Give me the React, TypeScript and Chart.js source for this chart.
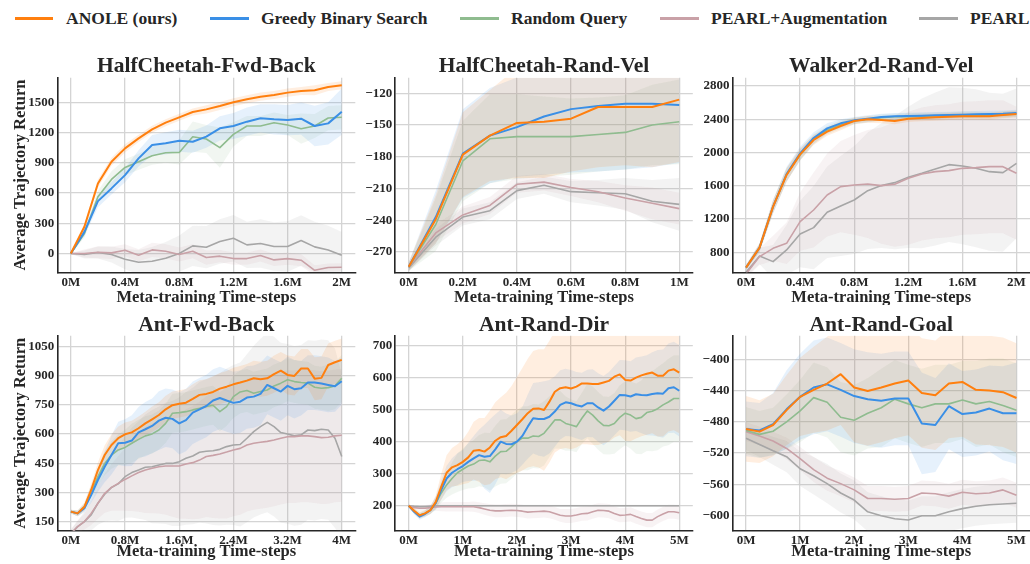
import React, { useEffect, useRef } from "react";
import { Chart, registerables } from "chart.js";

Chart.register(...registerables);

const FONT = '"Liberation Serif", "Times New Roman", serif';
const TEXT = "#262626";
const GRID = "#d4d4d4";
const SPINE = "#262626";

const SERIES = ["ANOLE (ours)", "Greedy Binary Search", "Random Query", "PEARL+Augmentation", "PEARL"];
const COLORS = ["#ff7f0e", "#3a8fe6", "#8fbc8f", "#c9a1a7", "#a6a6a6"];
const BAND_RGB = ["255,127,14", "58,143,230", "143,188,143", "201,161,167", "166,166,166"];

// ---------- x values (millions of steps) ----------
const X_2M = [0, 0.1, 0.2, 0.3, 0.4, 0.5, 0.6, 0.7, 0.8, 0.9, 1, 1.1, 1.2, 1.3, 1.4, 1.5, 1.6, 1.7, 1.8, 1.9, 2];
const X_1M = [0, 0.1, 0.2, 0.3, 0.4, 0.5, 0.6, 0.7, 0.8, 0.9, 1];
const X_4M = [0, 0.1, 0.2, 0.3, 0.4, 0.5, 0.6, 0.7, 0.8, 0.9, 1, 1.1, 1.2, 1.3, 1.4, 1.5, 1.6, 1.7, 1.8, 1.9, 2, 2.1, 2.2, 2.3, 2.4, 2.5, 2.6, 2.7, 2.8, 2.9, 3, 3.1, 3.2, 3.3, 3.4, 3.5, 3.6, 3.7, 3.8, 3.9, 4];
const X_5M = [0, 0.1, 0.2, 0.3, 0.4, 0.5, 0.6, 0.7, 0.8, 0.9, 1, 1.1, 1.2, 1.3, 1.4, 1.5, 1.6, 1.7, 1.8, 1.9, 2, 2.1, 2.2, 2.3, 2.4, 2.5, 2.6, 2.7, 2.8, 2.9, 3, 3.1, 3.2, 3.3, 3.4, 3.5, 3.6, 3.7, 3.8, 3.9, 4, 4.1, 4.2, 4.3, 4.4, 4.5, 4.6, 4.7, 4.8, 4.9, 5];
const X_5M_Q = [0, 0.25, 0.5, 0.75, 1, 1.25, 1.5, 1.75, 2, 2.25, 2.5, 2.75, 3, 3.25, 3.5, 3.75, 4, 4.25, 4.5, 4.75, 5];

// ---------- HalfCheetah-Fwd-Back ----------
const HCFB_ANOLE = [0, 265, 695, 910, 1043, 1142, 1232, 1298, 1351, 1404, 1430, 1463, 1500, 1530, 1556, 1573, 1596, 1612, 1619, 1652, 1669];
const HCFB_GREEDY = [0, 215, 520, 646, 778, 944, 1076, 1093, 1119, 1109, 1159, 1242, 1265, 1308, 1341, 1331, 1324, 1338, 1265, 1291, 1407];
const HCFB_RANDOM = [0, 199, 563, 735, 854, 910, 970, 1000, 1003, 1159, 1136, 1050, 1182, 1265, 1265, 1298, 1275, 1238, 1265, 1344, 1351];
const HCFB_PEARLAUG = [0, 0, 13, 7, 33, -17, 36, 23, -10, 23, -40, -26, -50, -50, -20, -63, -50, -66, -166, -139, -136];
const HCFB_PEARL = [0, -10, 10, -10, -56, -86, -76, -46, 0, 76, 63, 119, 152, 86, 99, 70, 70, 129, 66, 36, -17];
const HCFB_ANOLE_SD = [5, 30, 40, 40, 40, 35, 35, 35, 35, 35, 40, 40, 40, 40, 40, 40, 40, 40, 50, 40, 40];
const HCFB_GREEDY_SD = [5, 40, 60, 60, 70, 80, 100, 110, 110, 110, 110, 120, 130, 140, 140, 150, 150, 160, 200, 210, 230];
const HCFB_RANDOM_SD = [5, 40, 60, 80, 80, 80, 90, 100, 120, 150, 140, 200, 120, 100, 100, 100, 100, 150, 120, 120, 120];
const HCFB_PEARLAUG_SD = [5, 40, 60, 60, 60, 60, 70, 70, 70, 70, 70, 60, 60, 60, 60, 60, 60, 60, 50, 40, 40];
const HCFB_PEARL_SD = [5, 40, 60, 80, 100, 120, 140, 160, 180, 200, 210, 220, 230, 230, 240, 240, 250, 250, 250, 240, 230];

// ---------- HalfCheetah-Rand-Vel ----------
const HCRV_ANOLE = [-284, -239, -178, -160, -148, -147, -144, -133, -133, -133, -126];
const HCRV_GREEDY = [-284, -237, -177, -160, -152, -142, -135, -132, -130, -130, -131];
const HCRV_RANDOM = [-284, -244, -184, -163, -161, -161, -161, -159, -157, -150, -147];
const HCRV_PEARLAUG = [-284, -252, -235, -226, -206, -204, -209, -213, -219, -224, -229];
const HCRV_PEARL = [-285, -256, -237, -231, -212, -207, -213, -214, -215, -222, -225];
const HCRV_ANOLE_SD = [4, 23, 40, 43, 52, 53, 50, 57, 55, 57, 59];
const HCRV_GREEDY_SD = [4, 25, 42, 45, 47, 55, 60, 62, 62, 60, 55];
const HCRV_RANDOM_SD = [4, 25, 38, 42, 40, 38, 36, 35, 35, 38, 40];
const HCRV_PEARLAUG_SD = [3, 8, 8, 8, 8, 8, 8, 10, 12, 15, 15];
const HCRV_PEARL_SD = [3, 8, 8, 8, 8, 8, 10, 12, 15, 20, 25];

// ---------- Walker2d-Rand-Vel ----------
const W2D_ANOLE = [616, 856, 1349, 1730, 1978, 2151, 2251, 2319, 2379, 2399, 2391, 2379, 2407, 2415, 2423, 2431, 2435, 2435, 2435, 2451, 2463];
const W2D_GREEDY = [616, 856, 1349, 1740, 1990, 2175, 2291, 2351, 2387, 2407, 2427, 2435, 2439, 2443, 2447, 2451, 2455, 2459, 2463, 2467, 2475];
const W2D_RANDOM = [616, 856, 1350, 1735, 1970, 2160, 2270, 2335, 2380, 2400, 2420, 2430, 2432, 2435, 2440, 2445, 2450, 2450, 2445, 2455, 2465];
const W2D_PEARLAUG = [540, 748, 848, 908, 1169, 1309, 1489, 1590, 1610, 1622, 1602, 1618, 1690, 1742, 1770, 1782, 1810, 1818, 1830, 1830, 1750];
const W2D_PEARL = [560, 756, 688, 828, 1020, 1097, 1281, 1357, 1429, 1541, 1602, 1638, 1702, 1750, 1802, 1854, 1838, 1810, 1770, 1758, 1870];
const W2D_ANOLE_SD = [30, 50, 80, 80, 70, 60, 50, 50, 40, 40, 40, 40, 40, 40, 40, 40, 40, 40, 40, 40, 40];
const W2D_GREEDY_SD = [30, 50, 80, 90, 80, 70, 60, 50, 40, 40, 40, 40, 40, 40, 40, 40, 40, 40, 40, 40, 40];
const W2D_RANDOM_SD = [30, 50, 80, 80, 70, 60, 50, 50, 40, 40, 40, 40, 40, 40, 40, 40, 40, 40, 40, 40, 40];
const W2D_PEARLAUG_SD = [50, 100, 150, 250, 350, 450, 500, 550, 600, 650, 700, 750, 800, 800, 800, 800, 800, 800, 800, 800, 800];
const W2D_PEARL_SD = [50, 100, 200, 300, 400, 500, 550, 600, 650, 700, 750, 800, 850, 900, 920, 930, 940, 950, 950, 950, 900];

// ---------- Ant-Fwd-Back ----------
const AFB_ANOLE = [203, 194, 228, 314, 416, 493, 544, 579, 599, 609, 630, 655, 676, 698, 727, 748, 755, 761, 780, 801, 806, 816, 833, 843, 855, 864, 874, 886, 881, 886, 907, 925, 903, 898, 936, 936, 884, 888, 954, 968, 980];
const AFB_GREEDY = [203, 194, 220, 288, 365, 433, 493, 553, 556, 567, 609, 625, 642, 669, 684, 678, 655, 672, 710, 727, 744, 772, 785, 772, 760, 766, 787, 792, 806, 852, 835, 818, 847, 830, 835, 864, 864, 859, 852, 845, 871];
const AFB_RANDOM = [203, 194, 228, 305, 382, 450, 493, 519, 532, 553, 573, 591, 601, 621, 655, 707, 710, 715, 724, 732, 741, 748, 715, 741, 792, 816, 823, 809, 818, 826, 847, 861, 878, 869, 864, 861, 840, 835, 838, 847, 886];
const AFB_PEARLAUG = [90, 126, 152, 194, 246, 297, 327, 348, 368, 386, 403, 416, 425, 433, 437, 437, 437, 447, 454, 467, 485, 491, 498, 508, 519, 527, 544, 553, 558, 563, 570, 579, 587, 587, 591, 591, 587, 582, 584, 591, 594];
const AFB_PEARL = [90, 126, 152, 186, 246, 292, 327, 345, 382, 403, 416, 430, 433, 442, 450, 450, 459, 476, 488, 507, 512, 515, 522, 536, 544, 547, 579, 613, 638, 660, 638, 608, 601, 591, 596, 621, 618, 625, 621, 579, 485];
const AFB_ANOLE_SD = [10, 15, 20, 30, 40, 50, 55, 60, 60, 60, 60, 60, 65, 65, 70, 70, 70, 70, 75, 75, 75, 80, 80, 80, 85, 85, 85, 90, 90, 90, 95, 95, 100, 100, 100, 100, 110, 110, 110, 110, 110];
const AFB_GREEDY_SD = [10, 15, 20, 40, 60, 80, 100, 110, 120, 130, 130, 140, 140, 150, 150, 150, 160, 160, 160, 160, 160, 160, 160, 160, 160, 160, 160, 160, 160, 150, 150, 150, 150, 150, 140, 140, 140, 140, 140, 130, 120];
const AFB_RANDOM_SD = [10, 15, 20, 35, 50, 60, 70, 80, 90, 100, 100, 100, 100, 100, 100, 100, 100, 100, 100, 100, 100, 100, 100, 100, 110, 110, 110, 110, 110, 110, 110, 110, 110, 110, 110, 110, 110, 110, 120, 120, 120];
const AFB_PEARLAUG_SD = [20, 30, 40, 60, 80, 100, 120, 140, 160, 180, 200, 220, 230, 240, 250, 260, 270, 280, 290, 300, 310, 320, 330, 340, 340, 340, 340, 340, 340, 340, 340, 340, 340, 340, 340, 340, 340, 340, 340, 340, 340];
const AFB_PEARL_SD = [20, 30, 50, 80, 110, 140, 170, 190, 210, 230, 250, 270, 290, 300, 310, 320, 330, 340, 350, 360, 370, 380, 390, 400, 410, 420, 430, 440, 450, 460, 460, 460, 460, 460, 460, 460, 460, 460, 460, 460, 420];

// ---------- Ant-Rand-Dir ----------
const ARD_ANOLE = [200, 184, 170, 176, 186, 212, 259, 303, 320, 327, 337, 351, 372, 374, 369, 382, 403, 414, 418, 434, 452, 470, 489, 503, 504, 499, 525, 556, 567, 570, 566, 572, 582, 582, 580, 580, 585, 590, 603, 610, 593, 591, 600, 607, 612, 616, 606, 606, 622, 626, 616];
const ARD_GREEDY = [200, 181, 166, 174, 186, 209, 249, 285, 303, 314, 324, 337, 348, 358, 353, 355, 376, 400, 393, 392, 400, 418, 447, 473, 471, 471, 478, 494, 515, 523, 520, 514, 510, 520, 520, 507, 497, 510, 528, 546, 545, 541, 548, 546, 545, 549, 551, 550, 567, 570, 559];
const ARD_RANDOM = [200, 183, 171, 176, 186, 207, 239, 265, 285, 303, 314, 324, 330, 341, 343, 337, 355, 369, 370, 384, 400, 411, 411, 418, 416, 426, 447, 468, 468, 457, 452, 447, 473, 496, 483, 465, 451, 450, 457, 476, 489, 483, 472, 476, 491, 495, 503, 515, 524, 535, 535];
const ARD_PEARLAUG = [200, 194, 192, 192, 194, 196, 197, 197, 197, 197, 197, 197, 197, 194, 190, 186, 184, 184, 185, 186, 185, 183, 180, 181, 182, 183, 181, 176, 170, 168, 168, 171, 175, 176, 181, 186, 185, 183, 176, 170, 171, 173, 166, 160, 155, 155, 166, 174, 181, 181, 178];
const ARD_PEARL = [200, 198, 197, 197, 198, 199, 200, 200, 200, 200, 200, 200, 200, 200, 200, 200, 200, 200, 200, 200, 200, 200, 200, 200, 200, 200, 200, 200, 200, 200, 200, 200, 200, 200, 200, 200, 200, 200, 200, 200, 200, 200, 200, 200, 200, 200, 200, 200, 200, 200, 200];
const ARD_ANOLE_SD = [5, 8, 10, 10, 12, 20, 40, 55, 60, 65, 70, 80, 90, 100, 105, 115, 120, 125, 135, 140, 150, 160, 170, 180, 185, 190, 190, 190, 190, 190, 190, 190, 190, 190, 190, 190, 190, 190, 190, 190, 190, 190, 190, 190, 190, 190, 190, 190, 190, 190, 190];
const ARD_GREEDY_SD = [5, 8, 10, 10, 12, 20, 30, 40, 45, 50, 50, 60, 70, 80, 100, 115, 110, 100, 95, 90, 89, 90, 100, 110, 115, 118, 115, 110, 108, 105, 104, 104, 105, 105, 106, 107, 108, 108, 108, 109, 109, 110, 115, 120, 125, 130, 135, 138, 140, 142, 143];
const ARD_RANDOM_SD = [5, 8, 10, 10, 12, 20, 30, 40, 50, 60, 65, 70, 75, 80, 85, 90, 95, 100, 100, 100, 100, 100, 100, 100, 100, 100, 95, 90, 90, 85, 80, 80, 80, 85, 90, 90, 90, 90, 95, 100, 100, 105, 110, 115, 120, 125, 130, 130, 135, 135, 135];
const ARD_PEARLAUG_SD = [3, 5, 8, 10, 10, 12, 14, 15, 15, 15, 15, 15, 16, 17, 18, 19, 20, 20, 20, 20, 20, 20, 20, 20, 20, 20, 20, 20, 20, 22, 22, 22, 22, 22, 22, 22, 22, 22, 22, 22, 22, 22, 22, 22, 22, 22, 22, 22, 22, 22, 22];
const ARD_PEARL_SD = [3, 3, 3, 3, 3, 3, 3, 3, 3, 3, 3, 3, 3, 3, 3, 3, 3, 3, 3, 3, 3, 3, 3, 3, 3, 3, 3, 3, 3, 3, 3, 3, 3, 3, 3, 3, 3, 3, 3, 3, 3, 3, 3, 3, 3, 3, 3, 3, 3, 3, 3];

// ---------- Ant-Rand-Goal ----------
const ARG_ANOLE = [-489, -492.5, -484, -465, -448, -439, -431, -419, -436, -440.5, -436, -431, -427, -443, -446, -431, -429, -439, -440, -442, -449.5];
const ARG_GREEDY = [-489, -491, -483, -464, -448, -436, -432, -439, -447, -451, -453, -450, -450, -482, -484, -460, -470, -468, -463, -469, -469];
const ARG_RANDOM = [-491, -496, -492, -480, -466, -449, -455, -474, -478, -469, -462, -451, -457, -462, -457, -457, -452, -457, -454, -459, -465];
const ARG_PEARLAUG = [-492.5, -498, -504.5, -514, -527, -541, -552, -559, -567, -578, -578, -579, -578, -571, -572, -575, -570, -572, -571, -567, -574];
const ARG_PEARL = [-501, -509, -517, -524.5, -540, -549, -559, -571, -580, -595, -600, -604, -605.5, -600, -600, -595, -591, -588, -586, -585, -584];
const ARG_ANOLE_SD = [42, 40, 40, 45, 50, 55, 60, 65, 70, 70, 70, 70, 70, 70, 70, 70, 70, 70, 70, 70, 70];
const ARG_GREEDY_SD = [35, 35, 40, 50, 55, 60, 60, 60, 60, 60, 60, 60, 60, 65, 60, 55, 55, 55, 55, 60, 65];
const ARG_RANDOM_SD = [30, 30, 30, 35, 40, 45, 45, 45, 45, 45, 50, 50, 50, 50, 50, 50, 50, 55, 55, 60, 60];
const ARG_PEARLAUG_SD = [12, 12, 12, 14, 15, 16, 16, 16, 16, 16, 16, 16, 16, 16, 16, 16, 16, 16, 16, 16, 16];
const ARG_PEARL_SD = [15, 16, 18, 20, 22, 24, 25, 25, 25, 25, 25, 25, 25, 25, 25, 25, 25, 25, 25, 25, 25];

// ---------- tick labels ----------
const XT_2M = [0, 0.4, 0.8, 1.2, 1.6, 2];
const XT_1M = [0, 0.2, 0.4, 0.6, 0.8, 1];
const XT_4M = [0, 0.8, 1.6, 2.4, 3.2, 4];
const XT_5M = [0, 1, 2, 3, 4, 5];
const YT_HCFB = [0, 300, 600, 900, 1200, 1500];
const YT_HCRV = [-270, -240, -210, -180, -150, -120];
const YT_W2D = [800, 1200, 1600, 2000, 2400, 2800];
const YT_AFB = [150, 300, 450, 600, 750, 900, 1050];
const YT_ARD = [200, 300, 400, 500, 600, 700];
const YT_ARG = [-600, -560, -520, -480, -440, -400];

const XLABEL = "Meta-training Time-steps";
const YLABEL = "Average Trajectory Return";

// ---------- layout ----------
const COLS = [
  { left: 0, width: 360, areaL: 57.3, areaR: 355.3 },
  { left: 360, width: 340, areaL: 395.2, areaR: 692.8 },
  { left: 700, width: 330, areaL: 732.5, areaR: 1030 },
];
const ROWS = [
  { top: 40, height: 265, areaT: 77.7, areaB: 272.3, titleY: 71.7, xlabelY: 302 },
  { top: 305, height: 259, areaT: 335.7, areaB: 530.7, titleY: 331, xlabelY: 556 },
];

type Panel = {
  title: string;
  xs: number[];
  means: number[][];
  sds: number[][];
  xMin: number;
  xMax: number;
  yMin: number;
  yMax: number;
  xTicks: number[];
  yTicks: number[];
  col: number;
  row: number;
};

const PANELS: Panel[] = [
  {
    title: "HalfCheetah-Fwd-Back", xs: X_2M,
    means: [HCFB_ANOLE, HCFB_GREEDY, HCFB_RANDOM, HCFB_PEARLAUG, HCFB_PEARL],
    sds: [HCFB_ANOLE_SD, HCFB_GREEDY_SD, HCFB_RANDOM_SD, HCFB_PEARLAUG_SD, HCFB_PEARL_SD],
    xMin: -0.1, xMax: 2.1, yMin: -186, yMax: 1744, xTicks: XT_2M, yTicks: YT_HCFB, col: 0, row: 0,
  },
  {
    title: "HalfCheetah-Rand-Vel", xs: X_1M,
    means: [HCRV_ANOLE, HCRV_GREEDY, HCRV_RANDOM, HCRV_PEARLAUG, HCRV_PEARL],
    sds: [HCRV_ANOLE_SD, HCRV_GREEDY_SD, HCRV_RANDOM_SD, HCRV_PEARLAUG_SD, HCRV_PEARL_SD],
    xMin: -0.05, xMax: 1.05, yMin: -289.2, yMax: -105.3, xTicks: XT_1M, yTicks: YT_HCRV, col: 1, row: 0,
  },
  {
    title: "Walker2d-Rand-Vel", xs: X_2M,
    means: [W2D_ANOLE, W2D_GREEDY, W2D_RANDOM, W2D_PEARLAUG, W2D_PEARL],
    sds: [W2D_ANOLE_SD, W2D_GREEDY_SD, W2D_RANDOM_SD, W2D_PEARLAUG_SD, W2D_PEARL_SD],
    xMin: -0.1, xMax: 2.1, yMin: 559.5, yMax: 2900, xTicks: XT_2M, yTicks: YT_W2D, col: 2, row: 0,
  },
  {
    title: "Ant-Fwd-Back", xs: X_4M,
    means: [AFB_ANOLE, AFB_GREEDY, AFB_RANDOM, AFB_PEARLAUG, AFB_PEARL],
    sds: [AFB_ANOLE_SD, AFB_GREEDY_SD, AFB_RANDOM_SD, AFB_PEARLAUG_SD, AFB_PEARL_SD],
    xMin: -0.2, xMax: 4.2, yMin: 105.4, yMax: 1104, xTicks: XT_4M, yTicks: YT_AFB, col: 0, row: 1,
  },
  {
    title: "Ant-Rand-Dir", xs: X_5M,
    means: [ARD_ANOLE, ARD_GREEDY, ARD_RANDOM, ARD_PEARLAUG, ARD_PEARL],
    sds: [ARD_ANOLE_SD, ARD_GREEDY_SD, ARD_RANDOM_SD, ARD_PEARLAUG_SD, ARD_PEARL_SD],
    xMin: -0.25, xMax: 5.25, yMin: 122, yMax: 731, xTicks: XT_5M, yTicks: YT_ARD, col: 1, row: 1,
  },
  {
    title: "Ant-Rand-Goal", xs: X_5M_Q,
    means: [ARG_ANOLE, ARG_GREEDY, ARG_RANDOM, ARG_PEARLAUG, ARG_PEARL],
    sds: [ARG_ANOLE_SD, ARG_GREEDY_SD, ARG_RANDOM_SD, ARG_PEARLAUG_SD, ARG_PEARL_SD],
    xMin: -0.25, xMax: 5.25, yMin: -619.2, yMax: -369.8, xTicks: XT_5M, yTicks: YT_ARG, col: 2, row: 1,
  },
];

const LINE_WIDTHS = [2, 2, 1.6, 1.6, 1.6];

const fmtX = (v: number) => `${+v.toFixed(2)}M`;
const fmtY = (v: number) => (v < 0 ? `\u2212${Math.abs(v)}` : `${v}`);

const textPlugin = {
  id: "panelText",
  afterDraw(chart: any, _args: any, opts: any) {
    const { ctx, chartArea } = chart;
    const cx = (chartArea.left + chartArea.right) / 2;
    ctx.save();
    ctx.fillStyle = TEXT;
    ctx.textAlign = "center";
    ctx.textBaseline = "alphabetic";
    ctx.font = `bold 21.5px ${FONT}`;
    ctx.fillText(opts.title, cx, opts.titleY);
    ctx.font = `bold 16.5px ${FONT}`;
    ctx.fillText(XLABEL, cx, opts.xlabelY);
    if (opts.showY) {
      ctx.translate(opts.ylabelX, (chartArea.top + chartArea.bottom) / 2);
      ctx.rotate(-Math.PI / 2);
      ctx.fillText(YLABEL, 0, 0);
    }
    ctx.restore();
  },
};

function PanelChart({ p }: { p: Panel }) {
  const ref = useRef<HTMLCanvasElement>(null);
  const col = COLS[p.col];
  const row = ROWS[p.row];
  useEffect(() => {
    if (!ref.current) return;
    const datasets: any[] = [];
    p.means.forEach((m, si) => {
      const sd = p.sds[si];
      datasets.push({
        data: p.xs.map((x, i) => ({ x, y: m[i] + sd[i] })),
        borderColor: "transparent",
        borderWidth: 0,
        pointRadius: 0,
        backgroundColor: `rgba(${BAND_RGB[si]},0.13)`,
        fill: "+1",
        order: 100 + si,
      });
      datasets.push({
        data: p.xs.map((x, i) => ({ x, y: m[i] - sd[i] })),
        borderColor: "transparent",
        borderWidth: 0,
        pointRadius: 0,
        fill: false,
        order: 100 + si,
      });
    });
    p.means.forEach((m, si) => {
      datasets.push({
        label: SERIES[si],
        data: p.xs.map((x, i) => ({ x, y: m[i] })),
        borderColor: COLORS[si],
        borderWidth: LINE_WIDTHS[si],
        pointRadius: 0,
        fill: false,
        tension: 0,
        borderJoinStyle: "round",
        order: si,
      });
    });
    const tickFont = { family: FONT, size: 13, weight: "bold" as const };
    const chart = new Chart(ref.current, {
      type: "line",
      data: { datasets },
      plugins: [textPlugin],
      options: {
        responsive: false,
        animation: false,
        devicePixelRatio: 1,
        layout: {
          padding: {
            left: 0,
            top: row.areaT - row.top,
            right: col.left + col.width - col.areaR,
            bottom: 0,
          },
        },
        plugins: {
          legend: { display: false },
          tooltip: { enabled: false },
          title: { display: false },
          panelText: {
            title: p.title,
            titleY: row.titleY - row.top,
            xlabelY: row.xlabelY - row.top,
            showY: p.col === 0,
            ylabelX: 24.5,
          },
        } as any,
        scales: {
          x: {
            type: "linear",
            min: p.xMin,
            max: p.xMax,
            afterBuildTicks: (s: any) => {
              s.ticks = p.xTicks.map((v) => ({ value: v }));
            },
            afterFit: (s: any) => {
              s.height = row.top + row.height - row.areaB;
            },
            grid: { color: GRID, lineWidth: 1.3, drawTicks: false },
            border: { display: true, color: SPINE, width: 1.6 },
            ticks: {
              font: tickFont,
              color: TEXT,
              padding: p.row === 0 ? 3 : 2,
              maxRotation: 0,
              autoSkip: false,
              callback: (v: any) => fmtX(Number(v)),
            },
          },
          y: {
            type: "linear",
            min: p.yMin,
            max: p.yMax,
            afterBuildTicks: (s: any) => {
              s.ticks = p.yTicks.map((v) => ({ value: v }));
            },
            afterFit: (s: any) => {
              s.width = col.areaL - col.left;
            },
            grid: { color: GRID, lineWidth: 1.3, drawTicks: false },
            border: { display: true, color: SPINE, width: 1.6 },
            ticks: {
              font: tickFont,
              color: TEXT,
              padding: 3,
              autoSkip: false,
              callback: (v: any) => fmtY(Number(v)),
            },
          },
        },
      } as any,
    });
    return () => chart.destroy();
  }, []);
  return (
    <canvas
      ref={ref}
      width={col.width}
      height={row.height}
      style={{ position: "absolute", left: col.left, top: row.top, width: col.width, height: row.height }}
    />
  );
}

const LEGEND_POS = [
  { line: 14.5, text: 66 },
  { line: 210, text: 261 },
  { line: 460, text: 511 },
  { line: 660, text: 711 },
  { line: 919, text: 970 },
];

export default function App() {
  return (
    <div style={{ position: "absolute", left: 0, top: 0, width: 1030, height: 564, background: "#fff", overflow: "hidden" }}>
      {SERIES.map((s, i) => (
        <React.Fragment key={s}>
          <div
            style={{
              position: "absolute",
              left: LEGEND_POS[i].line,
              top: 17,
              width: 38.5,
              height: 3,
              background: COLORS[i],
            }}
          />
          <div
            style={{
              position: "absolute",
              left: LEGEND_POS[i].text,
              top: 10.3,
              fontFamily: FONT,
              fontWeight: "bold",
              fontSize: 17.5,
              lineHeight: 1,
              color: TEXT,
              whiteSpace: "nowrap",
            }}
          >
            {s}
          </div>
        </React.Fragment>
      ))}
      {PANELS.map((p) => (
        <PanelChart key={p.title} p={p} />
      ))}
    </div>
  );
}
